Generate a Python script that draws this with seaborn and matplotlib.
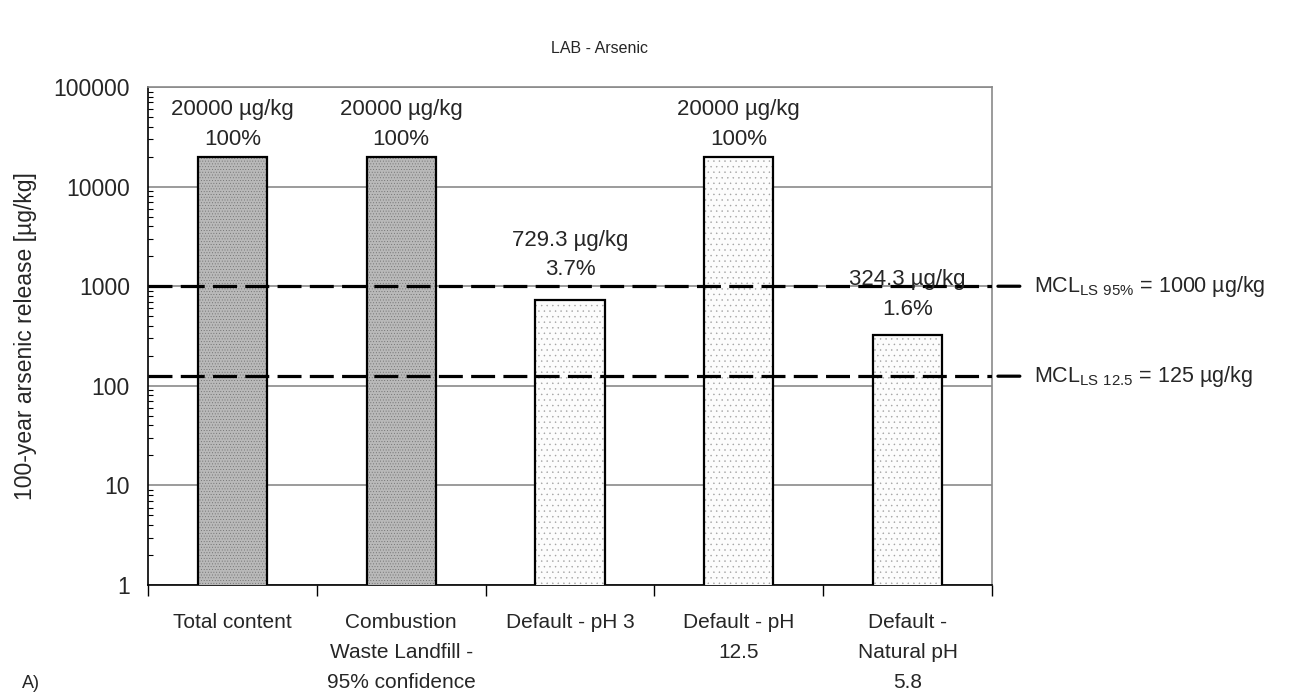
import matplotlib
matplotlib.use("Agg")
import matplotlib.pyplot as plt
import matplotlib.patches as mpatches
import seaborn as sns
import pandas as pd
import numpy as np
from matplotlib.ticker import FixedLocator, NullFormatter, LogLocator

categories = ["Total content", "Combustion\nWaste Landfill -\n95% confidence",
              "Default - pH 3", "Default - pH\n12.5", "Default -\nNatural pH\n5.8"]
release = [20000, 20000, 729.3, 20000, 324.3]
percent = ["100%", "100%", "3.7%", "100%", "1.6%"]
value_labels = ["20000 µg/kg", "20000 µg/kg", "729.3 µg/kg", "20000 µg/kg", "324.3 µg/kg"]
limit_values = [1000, 125]
limit_labels = [r"MCL$_{\mathregular{LS\ 95\%}}$ = 1000 µg/kg",
                r"MCL$_{\mathregular{LS\ 12.5}}$ = 125 µg/kg"]
bar_style = ["dense", "dense", "sparse", "sparse", "sparse"]

sns.set_theme(style="white")
plt.rcParams["font.family"] = ["Liberation Sans", "DejaVu Sans"]
plt.rcParams["hatch.linewidth"] = 0.3

df = pd.DataFrame({"category": categories, "release": release})

fig = plt.figure(figsize=(13.01, 6.94), dpi=100)
ax = fig.add_axes([0.1138, 0.157, 0.6487, 0.7176])

sns.barplot(data=df, x="category", y="release", ax=ax, width=0.41,
            color="white", edgecolor="black", linewidth=1.6, saturation=1)
ax.set_yscale("log")
ax.set_ylim(1, 100000)
ax.set_xlim(-0.5, len(categories) - 0.5)

# stippled fills: dark grey for the first two bars, light dots for the rest
fill_spec = {"dense": ("#b9b9b9", "......", "#6a6a6a"),
             "sparse": ("#fcfcfc", "...", "#a0a0a0")}
for patch, style in zip(list(ax.patches), bar_style):
    face, hatch, hcolor = fill_spec[style]
    patch.set_facecolor(face)
    patch.set_zorder(3)
    texture = mpatches.Rectangle(patch.get_xy(), patch.get_width(), patch.get_height(),
                                 facecolor="none", edgecolor=hcolor, hatch=hatch,
                                 linewidth=0, zorder=3.1)
    ax.add_patch(texture)
    outline = mpatches.Rectangle(patch.get_xy(), patch.get_width(), patch.get_height(),
                                 facecolor="none", edgecolor="black", linewidth=1.6,
                                 zorder=3.2)
    ax.add_patch(outline)
    patch.set_edgecolor("none")

# decade gridlines
ax.yaxis.set_major_locator(FixedLocator([1, 10, 100, 1000, 10000, 100000]))
ax.set_yticklabels(["1", "10", "100", "1000", "10000", "100000"], fontsize=16.5)
ax.yaxis.set_minor_locator(LogLocator(base=10, subs=np.arange(2, 10)))
ax.yaxis.set_minor_formatter(NullFormatter())
ax.grid(axis="y", which="major", color="#8a8a8a", linewidth=1.2, zorder=0)
ax.set_axisbelow(True)
ax.tick_params(axis="y", which="major", direction="out", length=7, width=1, color="black", pad=6)
ax.tick_params(axis="y", which="minor", direction="in", length=3.5, width=0.8, color="black", left=True)

# category boundary ticks, labels at centres
ax.xaxis.set_major_locator(FixedLocator(np.arange(-0.5, len(categories), 1.0)))
ax.xaxis.set_major_formatter(NullFormatter())
ax.xaxis.set_minor_locator(FixedLocator(np.arange(len(categories))))
ax.set_xticklabels(categories, minor=True, fontsize=15, linespacing=1.75, va="top")
ax.tick_params(axis="x", which="major", direction="out", length=8, width=1, color="black", bottom=True)
ax.tick_params(axis="x", which="minor", length=0, pad=20)
ax.set_xlabel("")
ax.set_ylabel("100-year arsenic release [µg/kg]", fontsize=16.5, labelpad=12)

for side in ["left", "bottom"]:
    ax.spines[side].set_color("black")
    ax.spines[side].set_linewidth(1.2)
for side in ["top", "right"]:
    ax.spines[side].set_color("#8a8a8a")
    ax.spines[side].set_linewidth(1.2)

# regulatory limits
for val, lab in zip(limit_values, limit_labels):
    ax.plot([-0.5, 4.5], [val, val], color="black", linewidth=2.3,
            dashes=(7.5, 2.6), zorder=4)
    ax.annotate("", xy=(1.033, val), xytext=(1.007, val), xycoords=("axes fraction", "data"),
                arrowprops=dict(arrowstyle="-", color="black", lw=2.3, shrinkA=0, shrinkB=0))
    ax.text(1.05, val, lab, transform=ax.get_yaxis_transform(), va="center",
            ha="left", fontsize=15.5)

# value labels above bars
label_gap = [5, 5, 14, 5, 11]
for i, (v, vl, pc) in enumerate(zip(release, value_labels, percent)):
    ax.annotate(f"{vl}\n{pc}", xy=(i, v), xytext=(0, label_gap[i]), textcoords="offset points",
                ha="center", va="bottom", fontsize=16, linespacing=1.55, zorder=5)

fig.text(0.461, 0.93, "LAB - Arsenic", ha="center", va="center", fontsize=11.5)
fig.text(0.017, 0.003, "A)", ha="left", va="bottom", fontsize=13)

fig.savefig("out.png", dpi=100)
